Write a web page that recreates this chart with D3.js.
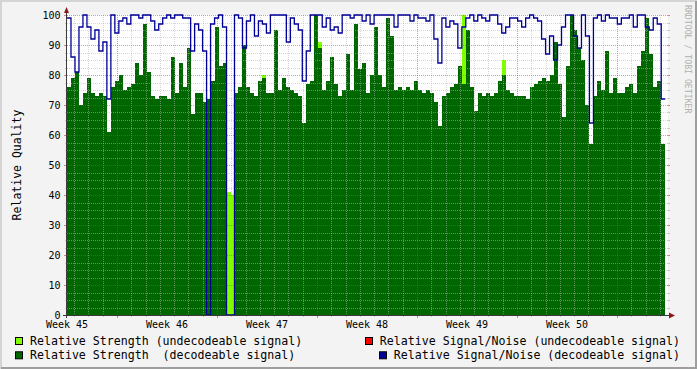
<!DOCTYPE html>
<html>
<head>
<meta charset="utf-8">
<script src="https://cdnjs.cloudflare.com/ajax/libs/d3/7.8.5/d3.min.js"></script>
<style>
html, body { margin: 0; padding: 0; background: #f3f3f3; }
svg { display: block; }
text { font-family: "DejaVu Sans Mono", monospace; white-space: pre; }
</style>
</head>
<body>
<div id="chart"></div>
<script>
'use strict';

//one sample every 6.7 hours, first one on monday of week 45
var sampleHours = 6.7;

var weekLabels = ['Week 45', 'Week 46', 'Week 47', 'Week 48', 'Week 49', 'Week 50'];
var yTicks = [0, 10, 20, 30, 40, 50, 60, 70, 80, 90, 100];

var strengthDecodeable = [
    76, 79, 81, 70, 74, 79, 74, 73, 74, 73,
    61, 76, 78, 80, 75, 76, 77, 84, 80, 97,
    81, 73, 72, 73, 73, 72, 86, 74, 84, 76,
    89, 67, 74, 74, 71, 72, 78, 96, 83, 84,
    0, 0, 74, 76, 90, 76, 74, 73, 78, 79,
    74, 74, 95, 75, 79, 76, 75, 74, 73, 64,
    77, 78, 100, 89, 75, 78, 86, 77, 73, 75,
    87, 75, 97, 82, 84, 74, 80, 96, 80, 76,
    99, 93, 75, 76, 75, 76, 75, 78, 75, 74,
    75, 74, 71, 63, 73, 74, 76, 77, 83, 77,
    95, 76, 68, 74, 73, 74, 73, 74, 78, 80,
    75, 74, 73, 73, 73, 72, 76, 77, 78, 79,
    78, 80, 91, 77, 66, 83, 100, 95, 89, 85,
    70, 57, 73, 78, 75, 88, 74, 79, 74, 74,
    76, 77, 74, 83, 88, 99, 87, 76, 78, 57
];

var strengthUndecodeable = [
    0, 0, 0, 0, 0, 0, 0, 0, 0, 0,
    0, 0, 0, 0, 0, 0, 0, 0, 0, 0,
    0, 0, 0, 0, 0, 0, 0, 0, 0, 0,
    0, 0, 0, 0, 0, 0, 0, 0, 0, 0,
    41, 40, 0, 0, 0, 0, 0, 0, 0, 80,
    0, 0, 0, 0, 0, 0, 0, 0, 0, 0,
    0, 0, 0, 91, 0, 0, 0, 0, 0, 0,
    0, 0, 0, 0, 0, 0, 0, 0, 0, 0,
    0, 0, 0, 0, 0, 0, 0, 0, 0, 0,
    0, 0, 0, 0, 0, 0, 0, 0, 0, 100,
    0, 0, 0, 0, 0, 0, 0, 0, 0, 85,
    0, 0, 0, 0, 0, 0, 0, 0, 0, 0,
    0, 0, 0, 0, 0, 0, 0, 0, 0, 0,
    0, 0, 0, 0, 0, 0, 0, 0, 0, 0,
    0, 0, 0, 0, 0, 0, 0, 0, 0, 0
];

var snDecodeable = [
    99, 86, 81, 96, 100, 96, 92, 95, 88, 91,
    72, 100, 94, 98, 99, 97, 100, 100, 99, 100,
    100, 98, 95, 97, 99, 100, 99, 100, 100, 99,
    99, 88, 97, 95, 88, 0, 97, 99, 100, 96,
    0, 0, 100, 99, 89, 98, 100, 93, 98, 97,
    94, 100, 100, 100, 100, 91, 99, 97, 95, 78,
    88, 100, 100, 100, 96, 99, 95, 96, 94, 100,
    100, 99, 100, 100, 98, 100, 97, 100, 100, 100,
    100, 100, 96, 100, 100, 100, 98, 100, 99, 99,
    98, 100, 92, 84, 99, 96, 98, 97, 89, 96,
    99, 100, 98, 100, 99, 98, 100, 100, 97, 94,
    96, 99, 99, 98, 96, 99, 100, 99, 98, 92,
    87, 93, 85, 90, 96, 100, 100, 93, 89, 100,
    93, 64, 99, 100, 98, 100, 99, 99, 97, 99,
    99, 100, 96, 100, 100, 96, 95, 99, 97, 72
];

//no undecodeable signal/noise samples in this period
var snUndecodeable = [];

var legendLeft = [
    {label: 'Relative Strength (undecodeable signal)', color: '#80ff00'},
    {label: 'Relative Strength  (decodeable signal)', color: '#006600'}
];
var legendRight = [
    {label: 'Relative Signal/Noise (undecodeable signal)', color: '#ff0000'},
    {label: 'Relative Signal/Noise (decodeable signal)', color: '#000099'}
];

//configuration variables
var config = {};
config.width        = 697;
config.height       = 369;
config.left         = 67;
config.right        = 667;
config.canvasRight  = 668;
config.top          = 15;
config.bottom       = 315;
config.minorGrid    = 'rgba(180,180,180,0.55)';
config.majorGrid    = 'rgba(255,40,40,0.55)';
config.arrow        = '#8b1a1a';
config.axis         = '#3a3a3a';
config.legendFont   = '11.6px';
config.legendRight  = 680;

var svg = d3.select('#chart')
    .append('svg')
    .attr('width', config.width)
    .attr('height', config.height)
    ;

//scales: x in days from the start of week 45
var x = d3.scaleLinear().domain([0, 42]).range([config.left, config.right]);
var y = d3.scaleLinear().domain([0, 100]).range([config.bottom, config.top]);

function toPoints(values){
    var step = sampleHours / 24;
    var pts = values.map(function(v, i){ return {t: i * step, v: v}; });
    if(pts.length){
        pts.push({t: values.length * step, v: values[values.length - 1]});
    }
    return pts;
}

//background and frame
svg.append('rect')
    .attr('width', config.width).attr('height', config.height)
    .attr('fill', '#f3f3f3');
svg.append('path')
    .attr('d', 'M1,' + config.height + 'V1H' + config.width)
    .attr('fill', 'none').attr('stroke', '#d4d4d4').attr('stroke-width', 2);
svg.append('path')
    .attr('d', 'M1,' + (config.height - 1) + 'H' + (config.width - 1) + 'V1')
    .attr('fill', 'none').attr('stroke', '#9e9e9e').attr('stroke-width', 2);

//canvas
svg.append('rect')
    .attr('x', config.left).attr('y', config.top)
    .attr('width', config.canvasRight - config.left)
    .attr('height', config.bottom - config.top)
    .attr('fill', '#fff');

//areas
var area = d3.area()
    .curve(d3.curveStepAfter)
    .x(function(d){ return x(d.t); })
    .y0(y(0))
    .y1(function(d){ return y(d.v); });

svg.append('path')
    .datum(toPoints(strengthUndecodeable))
    .attr('d', area)
    .attr('fill', '#80ff00')
    .attr('shape-rendering', 'crispEdges');

svg.append('path')
    .datum(toPoints(strengthDecodeable))
    .attr('d', area)
    .attr('fill', '#006600')
    .attr('shape-rendering', 'crispEdges');

//grid on top of the areas
var grid = svg.append('g').attr('class', 'grid');
var minorY = d3.range(2.5, 100, 2.5).filter(function(v){ return v % 10 !== 0; });
var majorY = yTicks.filter(function(v){ return v > 0; });
var minorX = d3.range(0.5, 42, 1).filter(function(d){ return (d - 3.5) % 7 !== 0; });
var majorX = d3.range(3.5, 42, 7);

function hLines(vals, color){
    grid.selectAll(null).data(vals).enter().append('line')
        .attr('x1', config.left).attr('x2', config.canvasRight)
        .attr('y1', function(d){ return Math.round(y(d)) + 0.5; })
        .attr('y2', function(d){ return Math.round(y(d)) + 0.5; })
        .attr('stroke', color).attr('stroke-dasharray', '1,1');
}
function vLines(vals, color){
    grid.selectAll(null).data(vals).enter().append('line')
        .attr('y1', config.top).attr('y2', config.bottom)
        .attr('x1', function(d){ return Math.round(x(d)) + 0.5; })
        .attr('x2', function(d){ return Math.round(x(d)) + 0.5; })
        .attr('stroke', color).attr('stroke-dasharray', '1,1');
}
hLines(minorY, config.minorGrid);
vLines(minorX, config.minorGrid);
hLines(majorY, config.majorGrid);
vLines(majorX, config.majorGrid);

//small ticks outside the canvas
function yTickMarks(vals, len, color){
    [[config.left - len, config.left], [config.canvasRight, config.canvasRight + 2]].forEach(function(r){
        grid.selectAll(null).data(vals).enter().append('line')
            .attr('x1', r[0]).attr('x2', r[1])
            .attr('y1', function(d){ return Math.round(y(d)) + 0.5; })
            .attr('y2', function(d){ return Math.round(y(d)) + 0.5; })
            .attr('stroke', color);
    });
}
yTickMarks(minorY, 2, '#c8c8c8');
yTickMarks(majorY, 3, '#e08080');
grid.selectAll(null).data(minorX).enter().append('line')
    .attr('y1', config.bottom).attr('y2', config.bottom + 2)
    .attr('x1', function(d){ return Math.round(x(d)) + 0.5; })
    .attr('x2', function(d){ return Math.round(x(d)) + 0.5; })
    .attr('stroke', '#c8c8c8');
grid.selectAll(null).data(majorX).enter().append('line')
    .attr('y1', config.bottom).attr('y2', config.bottom + 3)
    .attr('x1', function(d){ return Math.round(x(d)) + 0.5; })
    .attr('x2', function(d){ return Math.round(x(d)) + 0.5; })
    .attr('stroke', '#e08080');

//signal / noise lines
var line = d3.line()
    .curve(d3.curveStepAfter)
    .defined(function(d){ return d.v != null; })
    .x(function(d){ return x(d.t); })
    .y(function(d){ return y(d.v); });

svg.append('path')
    .datum(toPoints(snUndecodeable))
    .attr('d', line)
    .attr('fill', 'none')
    .attr('stroke', '#ff0000')
    .attr('stroke-width', 1.3);

svg.append('path')
    .datum(toPoints(snDecodeable))
    .attr('d', line)
    .attr('fill', 'none')
    .attr('stroke', '#000099')
    .attr('stroke-width', 1.3);

//axes
svg.append('line')
    .attr('x1', config.left - 4).attr('x2', config.canvasRight + 2)
    .attr('y1', config.bottom + 0.5).attr('y2', config.bottom + 0.5)
    .attr('stroke', config.axis);
svg.append('line')
    .attr('x1', config.left - 0.5).attr('x2', config.left - 0.5)
    .attr('y1', config.bottom + 3).attr('y2', config.top - 3)
    .attr('stroke', config.axis);
svg.append('path')
    .attr('d', 'M' + (config.left - 3) + ',' + (config.top - 2) + 'L' + (config.left - 0.5) + ',' + (config.top - 8) + 'L' + (config.left + 2) + ',' + (config.top - 2) + 'Z')
    .attr('fill', config.arrow);
svg.append('path')
    .attr('d', 'M' + (config.canvasRight + 1) + ',' + (config.bottom - 2.5) + 'L' + (config.canvasRight + 7) + ',' + (config.bottom + 0.5) + 'L' + (config.canvasRight + 1) + ',' + (config.bottom + 3.5) + 'Z')
    .attr('fill', config.arrow);

//tick labels
svg.selectAll('text.ylabel')
    .data(yTicks)
    .enter()
        .append('text')
        .attr('class', 'ylabel')
        .attr('x', 60.5)
        .attr('y', function(d){ return y(d) + 3.6; })
        .attr('text-anchor', 'end')
        .style('font-size', '10px')
        .attr('fill', '#000')
        .text(function(d){ return d; });

svg.selectAll('text.xlabel')
    .data(weekLabels)
    .enter()
        .append('text')
        .attr('class', 'xlabel')
        .attr('x', function(d, i){ return x(i * 7); })
        .attr('y', 328)
        .attr('text-anchor', 'middle')
        .style('font-size', '10px')
        .attr('fill', '#000')
        .text(function(d){ return d; });

svg.append('text')
    .attr('transform', 'translate(20.5,' + ((config.top + config.bottom) / 2) + ') rotate(-90)')
    .attr('text-anchor', 'middle')
    .style('font-size', '11.5px')
    .attr('fill', '#000')
    .text('Relative Quality');

//watermark
svg.append('text')
    .attr('transform', 'translate(685,5) rotate(90)')
    .style('font-size', '8.2px')
    .attr('fill', '#b0b0b0')
    .text('RRDTOOL / TOBI OETIKER');

//legend
var legend = svg.append('g').attr('class', 'legend');
legendLeft.forEach(function(d, i){
    var base = 345 + i * 14.3;
    legend.append('rect')
        .attr('x', 15.5).attr('y', base - 7.5)
        .attr('width', 7).attr('height', 7)
        .attr('fill', d.color).attr('stroke', '#000');
    legend.append('text')
        .attr('x', 30).attr('y', base)
        .style('font-size', config.legendFont)
        .attr('fill', '#000')
        .text(d.label);
});
legendRight.forEach(function(d, i){
    var base = 345 + i * 14.3;
    var t = legend.append('text')
        .attr('x', config.legendRight).attr('y', base)
        .attr('text-anchor', 'end')
        .style('font-size', config.legendFont)
        .attr('fill', '#000')
        .text(d.label);
    var start = config.legendRight - t.node().getComputedTextLength();
    legend.append('rect')
        .attr('x', Math.round(start - 15) + 0.5).attr('y', base - 7.5)
        .attr('width', 7).attr('height', 7)
        .attr('fill', d.color).attr('stroke', '#000');
});
</script>
</body>
</html>
